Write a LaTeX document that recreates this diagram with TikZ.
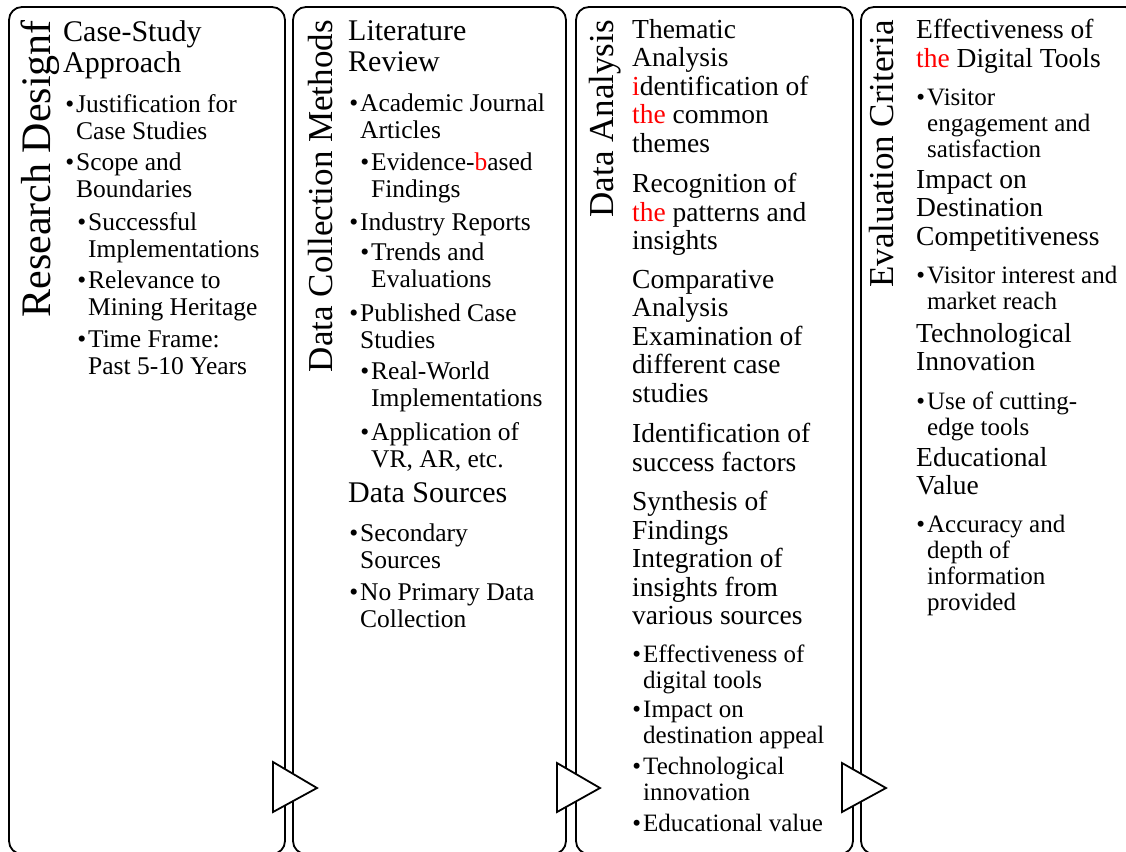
\documentclass[tikz,border=0pt]{standalone}
\usepackage{fontspec}
\setmainfont{Liberation Serif}
\usepackage{xcolor}
\newcommand{\bul}{\llap{\textbullet\kern2pt}}
\newcommand{\rd}[1]{\textcolor{red}{#1}}
\begin{document}
\begin{tikzpicture}[x=1pt,y=-1pt,
  panel/.style={draw, line width=1.8pt, rounded corners=13pt},
  tri/.style={draw, line width=1.8pt, fill=white, line join=miter},
  ttl/.style={rotate=90, anchor=base east, inner sep=0pt, font=\fontsize{35}{35}\selectfont},
  hA/.style={anchor=north west, yshift=21pt, align=left, inner sep=0pt, font=\fontsize{30}{31}\selectfont, execute at begin node={\rule{0pt}{24pt}}},
  bA/.style={anchor=north west, yshift=17pt, align=left, inner sep=0pt, font=\fontsize{25.5}{27}\selectfont, execute at begin node={\rule{0pt}{20pt}}},
  hB/.style={anchor=north west, yshift=18pt, align=left, inner sep=0pt, font=\fontsize{27.5}{28.5}\selectfont, execute at begin node={\rule{0pt}{22pt}}},
  bB/.style={anchor=north west, yshift=16pt, align=left, inner sep=0pt, font=\fontsize{25}{26}\selectfont, execute at begin node={\rule{0pt}{20pt}}}]
\useasboundingbox (0,0) rectangle (1126,851);
\clip (0,0) rectangle (1126,851);
\fill[white] (0,0) rectangle (1126,851);
% panels
\draw[panel] (9,7) rectangle (285,854);
\draw[panel] (293,7) rectangle (566,854);
\draw[panel] (576,7) rectangle (853,854);
\draw[panel] (861,7) rectangle (1138,854);
% titles
\node[ttl, font=\fontsize{42}{42}\selectfont] (t1) at (50,20) {Research Designf};
\node[ttl] (t2) at (332,20) {Data Collection Methods};
\node[ttl] (t3) at (613,20) {Data Analysis};
\node[ttl] (t4) at (893,20) {Evaluation Criteria};
% panel 1
\node[hA] (a1) at (63,41) {Case-Study\\Approach};
\node[bA] (a2) at (76,111) {\bul Justification for\\Case Studies};
\node[bA] (a3) at (76,170) {\bul Scope and\\Boundaries};
\node[bA] (a4) at (88,229) {\bul Successful\\Implementations};
\node[bA] (a5) at (88,288) {\bul Relevance to\\Mining Heritage};
\node[bA] (a6) at (88,347) {\bul Time Frame:\\Past 5-10 Years};
% panel 2
\node[hA] (b1) at (348,41) {Literature\\Review};
\node[bA] (b2) at (360,111) {\bul Academic Journal\\Articles};
\node[bA] (b3) at (371,170) {\bul Evidence-\rd{b}ased\\Findings};
\node[bA] (b4) at (360,227) {\bul Industry Reports};
\node[bA] (b5) at (371,260) {\bul Trends and\\Evaluations};
\node[bA] (b6) at (360,321) {\bul Published Case\\Studies};
\node[bA] (b7) at (371,379) {\bul Real-World\\Implementations};
\node[bA] (b8) at (371,439) {\bul Application of\\VR, AR, etc.};
\node[hA] (b9) at (348,499) {Data Sources};
\node[bA] (b10) at (360,541) {\bul Secondary\\Sources};
\node[bA] (b11) at (360,600) {\bul No Primary Data\\Collection};
% panel 3
\node[hB] (c1) at (632,37) {Thematic\\Analysis\\\rd{i}dentification of\\\rd{the} common\\themes};
\node[hB] (c2) at (632,191) {Recognition of\\\rd{the} patterns and\\insights};
\node[hB] (c3) at (632,288) {Comparative\\Analysis\\Examination of\\different case\\studies};
\node[hB] (c4) at (632,441) {Identification of\\success factors};
\node[hB] (c5) at (632,509) {Synthesis of\\Findings\\Integration of\\insights from\\various sources};
\node[bB] (c6) at (643,661) {\bul Effectiveness of\\digital tools};
\node[bB] (c7) at (643,717) {\bul Impact on\\destination appeal};
\node[bB] (c8) at (643,773) {\bul Technological\\innovation};
\node[bB] (c9) at (643,827) {\bul Educational value};
% panel 4
\node[hB] (d1) at (916,37) {Effectiveness of\\\rd{the} Digital Tools};
\node[bB] (d2) at (927,105) {\bul Visitor\\engagement and\\satisfaction};
\node[hB] (d3) at (916,188) {Impact on\\Destination\\Competitiveness};
\node[bB] (d4) at (927,282) {\bul Visitor interest and\\market reach};
\node[hB] (d5) at (916,341) {Technological\\Innovation};
\node[bB] (d6) at (927,408) {\bul Use of cutting-\\edge tools};
\node[hB] (d7) at (916,465) {Educational\\Value};
\node[bB] (d8) at (927,531) {\bul Accuracy and\\depth of\\information\\provided};
% triangles
\draw[tri] (273,762) -- (273,812) -- (317,788) -- cycle;
\draw[tri] (557,763) -- (557,812) -- (600,788) -- cycle;
\draw[tri] (842,763) -- (842,812) -- (886,788) -- cycle;
\end{tikzpicture}
\end{document}
